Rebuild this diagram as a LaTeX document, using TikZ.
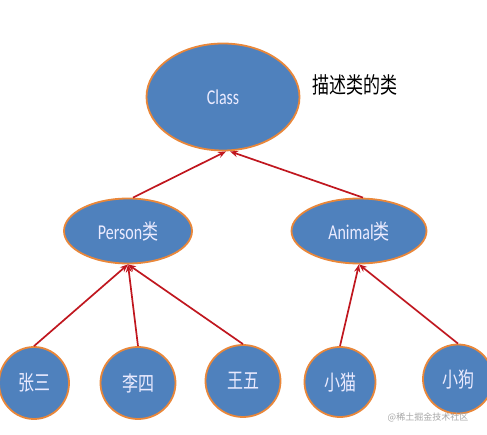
\documentclass[tikz,border=0pt]{standalone}
\usepackage{fontspec}
\usepackage{graphicx}
\setmainfont{Carlito}
\newfontfamily\cjk{Noto Sans CJK SC}
\usetikzlibrary{arrows.meta,shapes.geometric}
\definecolor{NodeBlue}{HTML}{4F81BD}
\definecolor{RimOrange}{HTML}{E9873A}
\definecolor{LinkRed}{HTML}{C0171F}
\newcommand{\tall}[1]{\scalebox{1}[1.32]{#1}}

\begin{document}
\begin{tikzpicture}[x=1pt,y=-1pt,font=\fontsize{16}{18}\selectfont,
oval/.style={ellipse,draw=RimOrange,line width=1.8pt,fill=NodeBlue,text=white!92!blue,inner sep=0pt},
leaf/.style={oval,font=\fontsize{16}{18}\selectfont\cjk},
link/.style={-{Stealth[length=2.8mm,width=2.2mm]},LinkRed,line width=1.7pt}]
\useasboundingbox (0,0) rectangle (487,435);
% top level
\node[oval,minimum width=153pt,minimum height=107pt] (C) at (223,97) {\tall{Class}};
\node[font=\fontsize{17}{19}\selectfont\cjk] (note) at (355,85) {\tall{描述类的类}};
% middle level
\node[oval,minimum width=128pt,minimum height=65pt] (P) at (128,231) {\tall{Person{\cjk 类}}};
\node[oval,minimum width=135pt,minimum height=65pt] (A) at (359,231) {\tall{Animal{\cjk 类}}};
% leaves
\node[leaf,minimum width=70pt,minimum height=72pt] (zs) at (34,383) {\tall{张三}};
\node[leaf,minimum width=75pt,minimum height=72pt] (ls) at (138,383) {\tall{李四}};
\node[leaf,minimum width=75pt,minimum height=72pt] (ww) at (243,381) {\tall{王五}};
\node[leaf,minimum width=71pt,minimum height=70pt] (xm) at (340,382) {\tall{小猫}};
\node[leaf,minimum width=70pt,minimum height=69pt] (xg) at (458,379) {\tall{小狗}};
\node[text=gray!70,font=\fontsize{9}{11}\selectfont\cjk] (wm) at (428,417) {@稀土掘金技术社区};
% links
\draw[link] (P.north) ++(5,0) coordinate (p1) (p1) -- ([xshift=3pt]C.south);
\draw[link] (A.north) ++(4,0) coordinate (a1) (a1) -- ([xshift=7pt]C.south);
\foreach \k in {zs,ls,ww}
  \draw[link] (\k.north) -- (P.south);
\foreach \k in {xm,xg}
  \draw[link] (\k.north) -- (A.south);
\end{tikzpicture}
\end{document}
